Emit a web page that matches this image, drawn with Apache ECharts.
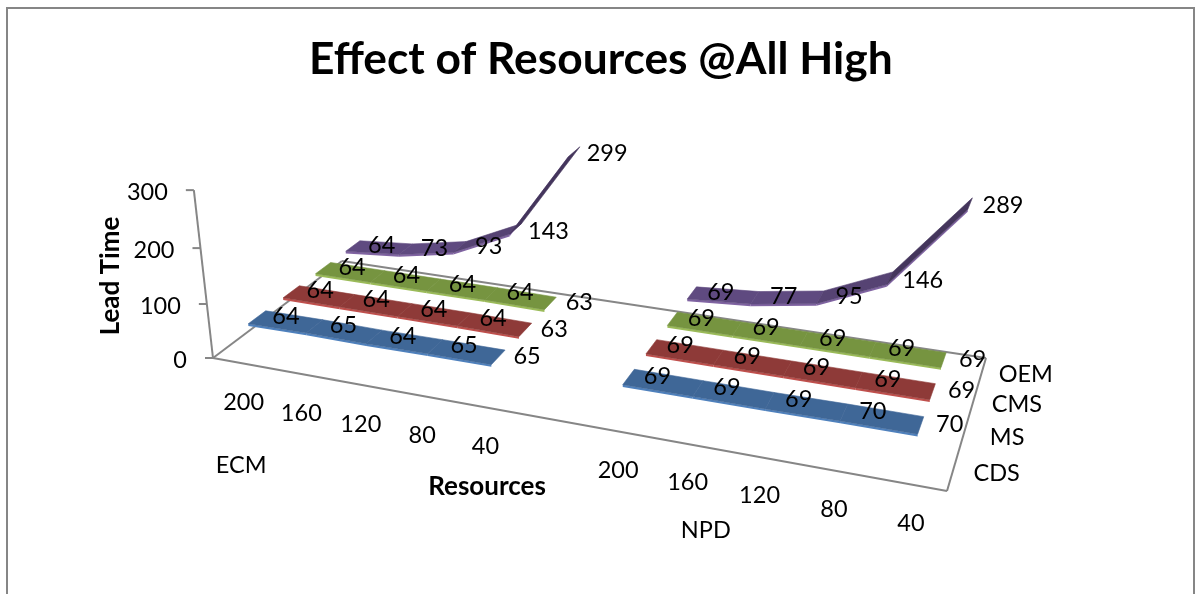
<!DOCTYPE html>
<html><head><meta charset="utf-8">
<style>html,body{margin:0;padding:0;background:#fff}#c{width:1196px;height:594px}</style>
<script src="https://cdn.jsdelivr.net/npm/echarts@6/dist/echarts.min.js"></script>
</head><body><div id="c"></div>
<script>
// ---- data ----
const titleText = 'Effect of Resources @All High';
const resources = ['200','160','120','80','40'];
const groups = ['ECM','NPD'];
const seriesNames = ['CDS','MS','CMS','OEM'];
const valueTicks = [0,100,200,300];
const ecmCDS = [64,65,64,65,65];
const npdCDS = [69,69,69,70,70];
const ecmMS  = [64,64,64,64,63];
const npdMS  = [69,69,69,69,69];
const ecmCMS = [64,64,64,64,63];
const npdCMS = [69,69,69,69,69];
const ecmOEM = [64,73,93,143,299];
const npdOEM = [69,77,95,146,289];
const ecmData = [ecmCDS,ecmMS,ecmCMS,ecmOEM];
const npdData = [npdCDS,npdMS,npdCMS,npdOEM];
const topColors  = ['#3F6797','#8E3A38','#769440','#5F4A80'];
const edgeColors = ['#4F81BD','#C0504D','#9BBB59','#8064A2'];

// ---- projection of the 3-D box (floor quad + vertical vanishing point) ----
const W = 1196, H = 594, SLOTS = 11, DEPTHS = 4, VMAX = 300;
const FA=[213,358], FB=[947,491], FC=[986,358], FD=[342,261];
const VP=[560,3400], K=-0.0523/VMAX;
const groupStart=[0.56,6.53];
const hom = (function(){
  const [x0,y0]=FA,[x1,y1]=FB,[x2,y2]=FC,[x3,y3]=FD;
  const dx1=x1-x2,dx2=x3-x2,sx=x0-x1+x2-x3,dy1=y1-y2,dy2=y3-y2,sy=y0-y1+y2-y3;
  const den=dx1*dy2-dx2*dy1, g=(sx*dy2-dx2*sy)/den, h=(dx1*sy-sx*dy1)/den;
  return {a:x1-x0+g*x1,b:x3-x0+h*x3,c:x0,d:y1-y0+g*y1,e:y3-y0+h*y3,f:y0,g,h};
})();
// px = position given by the hidden cartesian axes (slot, value); depth in 0..4
function project(px, depth){
  const u=px[0]/W, val=(H-px[1])/H*VMAX, v=depth/DEPTHS, m=hom, t=val*K;
  const X=m.a*u+m.b*v+m.c, Y=m.d*u+m.e*v+m.f, Z=m.g*u+m.h*v+1;
  return [(X+t*VP[0])/(Z+t),(Y+t*VP[1])/(Z+t)];
}
const RIB_FRONT=0.20, RIB_BACK=0.69, RIB_MID=0.44;
const font='Lato, Carlito, sans-serif';
function text(str,x,y,opt){
  return {type:'text',z2:10,x:x,y:y,style:Object.assign({
    text:str,fill:'#000',font:'23.5px '+font,align:'center',verticalAlign:'middle'},opt&&opt.style)};
}
function shade(hex,f){
  const n=parseInt(hex.slice(1),16);
  const c=[n>>16,(n>>8)&255,n&255].map(x=>Math.round(x*f));
  return 'rgb('+c.join(',')+')';
}
const slotRows=[];
groups.forEach((g,gi)=>{resources.forEach((r,ri)=>{slotRows.push({slot:groupStart[gi]+ri,ri,gi});});});
function seriesRows(j){
  return slotRows.map(s=>[s.slot,(s.gi===0?ecmData:npdData)[j][s.ri],s.ri]);
}
const ribbonSeries = seriesNames.map((name,j)=>({
  name, type:'custom', coordinateSystem:'cartesian2d', z:5,
  encode:{x:0,y:1}, clip:false, silent:true,
  data: seriesRows(j),
  renderItem(params,api){
    const i=params.dataIndex, rowsJ=seriesRows(j), cur=rowsJ[i], nxt=rowsJ[i+1];
    if(!nxt||nxt[0]-cur[0]>1.01) return {type:'group',children:[]};
    const a=api.coord([cur[0],cur[1]]), b=api.coord([nxt[0],nxt[1]]);
    const f1=project(a,j+RIB_FRONT), f2=project(b,j+RIB_FRONT), b1=project(a,j+RIB_BACK), b2=project(b,j+RIB_BACK);
    const down=p=>[p[0],p[1]+2.2];
    const rise=Math.abs(nxt[1]-cur[1]);
    const dark=rise>100?0.72:(rise>30?0.9:1);
    return {type:'group',children:[
      {type:'polygon',shape:{points:[f1,f2,down(f2),down(f1)]},style:{fill:edgeColors[j]}},
      {type:'polygon',shape:{points:[f1,f2,b2,b1]},style:{fill:shade(topColors[j],dark),stroke:shade(topColors[j],dark),lineWidth:0.6}}
    ]};
  }
}));
// labels of the data points
const labelSeries = seriesNames.map((name,j)=>({
  name:name+' labels', type:'custom', coordinateSystem:'cartesian2d', z:20,
  encode:{x:0,y:1}, clip:false, silent:true,
  data: seriesRows(j),
  renderItem(params,api){
    const val=api.value(1);
    const p=project(api.coord([api.value(0),val]),j+RIB_MID);
    return text(String(val),p[0]+29+(val>100?4:0),p[1]+(val>100?2:-1));
  }
}));
// box lines, ticks and axis texts
const frameRows = valueTicks.map(v=>[0,v]);
const frameSeries = {
  name:'frame', type:'custom', coordinateSystem:'cartesian2d', z:2, clip:false, silent:true,
  encode:{x:0,y:1}, data:frameRows,
  renderItem(params,api){
    const kids=[];
    const line={stroke:'#868686',lineWidth:2};
    const v=api.value(1), p=project(api.coord([0,v]),0);
    kids.push({type:'line',shape:{x1:p[0]-8,y1:p[1],x2:p[0],y2:p[1]},style:line});
    kids.push(text(String(v),p[0]-26,p[1]+2,{style:{align:'right'}}));
    if(params.dataIndex===0){
      const seg=(a,b)=>kids.push({type:'line',shape:{x1:a[0],y1:a[1],x2:b[0],y2:b[1]},style:line});
      const top=project(api.coord([0,VMAX]),0);
      const a=project(api.coord([0,0]),0),bb=project(api.coord([SLOTS,0]),0),
            c=project(api.coord([SLOTS,0]),DEPTHS),d=project(api.coord([0,0]),DEPTHS);
      seg(top,a);seg(a,bb);seg(bb,c);seg(a,d);seg(d,c);
      slotRows.forEach(s=>{
        const q=project(api.coord([s.slot,0]),0);
        kids.push(text(resources[s.ri],q[0]+(s.gi===0?-1:1),q[1]+39));
      });
      const g0=project(api.coord([0.5,0]),0), g1=project(api.coord([7.8,0]),0);
      kids.push(text(groups[0],g0[0],g0[1]+102));
      kids.push(text(groups[1],g1[0],g1[1]+83));
      seriesNames.forEach((n,j)=>{
        const q=project(api.coord([SLOTS,0]),j+0.5);
        kids.push(text(n,q[0]+44,q[1]+2));
      });
    }
    return {type:'group',children:kids};
  }
};
const chart=echarts.init(document.getElementById('c'),null,{renderer:'canvas'});
chart.setOption({
  animation:false, backgroundColor:'#fff',
  title:{text:titleText,left:304,top:33,textStyle:{fontFamily:font,fontSize:44.3,fontWeight:'bold',color:'#000'}},
  grid:{left:0,right:0,top:0,bottom:0,containLabel:false},
  xAxis:{type:'value',min:0,max:SLOTS,show:false},
  yAxis:{type:'value',min:0,max:VMAX,show:false},
  tooltip:{show:false},
  graphic:[
    {type:'polyline',z:1,shape:{points:[[7,594],[7,8],[1194,8],[1194,594]]},style:{fill:null,stroke:'#868686',lineWidth:2}},
    {type:'text',z:3,x:487,y:487,style:{text:'Resources',font:'bold 26px '+font,fill:'#000',align:'center',verticalAlign:'middle'}},
    {type:'text',z:3,x:111,y:276,rotation:Math.PI/2,style:{text:'Lead Time',font:'bold 26px '+font,fill:'#000',align:'center',verticalAlign:'middle'}}
  ],
  series:[frameSeries].concat(ribbonSeries.slice().reverse()).concat(labelSeries)
});
</script></body></html>
